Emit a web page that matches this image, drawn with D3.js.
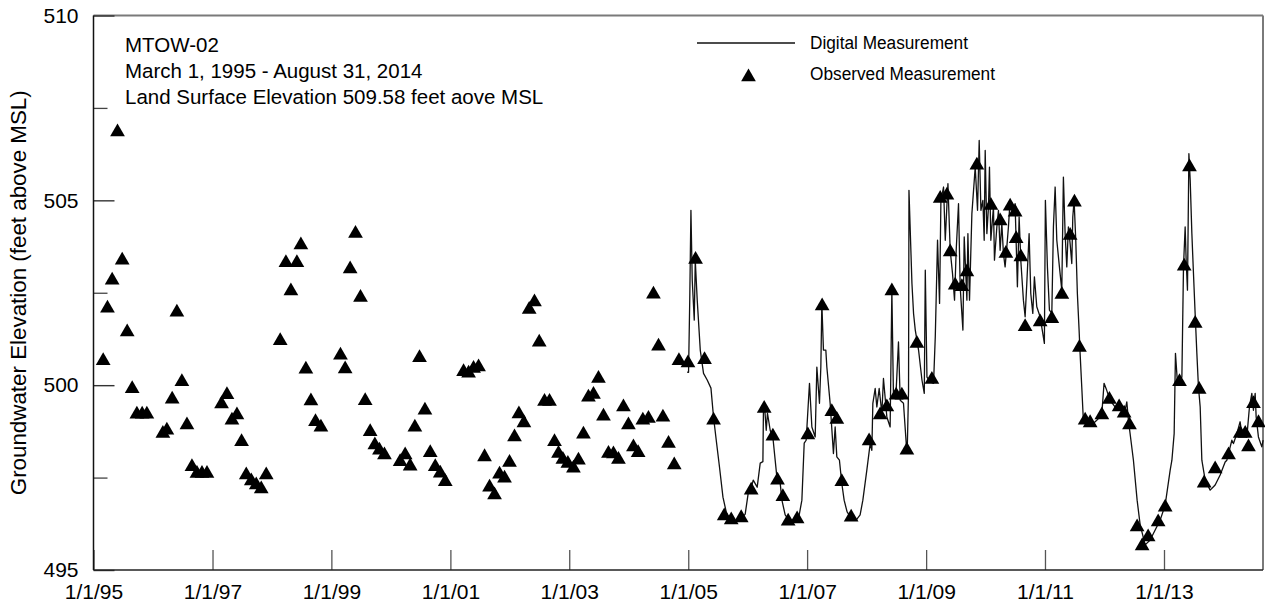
<!DOCTYPE html>
<html>
<head>
<meta charset="utf-8">
<script src="https://cdn.jsdelivr.net/npm/d3@7"></script>
<style>
  html, body { margin: 0; padding: 0; background: #fff; }
  svg { display: block; }
  text { font-family: "Liberation Sans", Arial, Helvetica, sans-serif; fill: #000; }
</style>
</head>
<body>
<svg id="chart" width="1265" height="611"></svg>
<script>
// MTOW-02 groundwater hydrograph, March 1995 - August 2014.
// Times are decimal years, levels are feet above MSL.

const titleLines = [
  "MTOW-02",
  "March 1, 1995 - August 31, 2014",
  "Land Surface Elevation 509.58 feet aove MSL"
];
const legendLabels = ["Digital Measurement", "Observed Measurement"];
const yAxisTitle = "Groundwater Elevation (feet above MSL)";

const xTickYears = [1995, 1997, 1999, 2001, 2003, 2005, 2007, 2009, 2011, 2013];
const yMajorTicks = [495, 500, 505, 510];
const yMinorTicks = [497.5, 502.5, 507.5];
const xDomainYears = [1995.0, 2014.666];

// Manual (observed) water-level measurements
const observed = [
  [1995.163, 500.66], [1995.235, 502.08], [1995.314, 502.84], [1995.404, 506.85],
  [1995.483, 503.38], [1995.567, 501.44], [1995.651, 499.90], [1995.730, 499.21],
  [1995.819, 499.21], [1995.898, 499.21], [1996.167, 498.69], [1996.234, 498.78],
  [1996.323, 499.62], [1996.402, 501.97], [1996.486, 500.09], [1996.571, 498.92],
  [1996.655, 497.79], [1996.739, 497.61], [1996.823, 497.61], [1996.907, 497.61],
  [1997.152, 499.49], [1997.243, 499.74], [1997.327, 499.05], [1997.411, 499.19],
  [1997.489, 498.47], [1997.568, 497.57], [1997.652, 497.41], [1997.736, 497.30],
  [1997.820, 497.19], [1997.904, 497.57], [1998.139, 501.20], [1998.235, 503.31],
  [1998.319, 502.55], [1998.420, 503.31], [1998.487, 503.79], [1998.571, 500.43],
  [1998.656, 499.57], [1998.733, 499.01], [1998.824, 498.86], [1999.153, 500.81],
  [1999.232, 500.44], [1999.316, 503.14], [1999.406, 504.10], [1999.490, 502.37],
  [1999.569, 499.58], [1999.653, 498.74], [1999.732, 498.38], [1999.809, 498.24],
  [1999.893, 498.11], [2000.157, 497.93], [2000.241, 498.11], [2000.325, 497.81],
  [2000.404, 498.86], [2000.482, 500.74], [2000.573, 499.32], [2000.662, 498.17],
  [2000.746, 497.79], [2000.830, 497.62], [2000.914, 497.39], [2001.222, 500.36],
  [2001.306, 500.32], [2001.390, 500.45], [2001.474, 500.49], [2001.575, 498.06],
  [2001.659, 497.24], [2001.743, 497.03], [2001.827, 497.59], [2001.911, 497.48],
  [2001.995, 497.91], [2002.079, 498.60], [2002.153, 499.22], [2002.237, 498.98],
  [2002.326, 502.05], [2002.415, 502.25], [2002.495, 501.16], [2002.584, 499.56],
  [2002.668, 499.56], [2002.752, 498.47], [2002.819, 498.15], [2002.893, 497.99],
  [2002.977, 497.88], [2003.071, 497.75], [2003.155, 497.97], [2003.239, 498.67],
  [2003.323, 499.67], [2003.408, 499.75], [2003.492, 500.18], [2003.576, 499.16],
  [2003.660, 498.15], [2003.744, 498.14], [2003.828, 497.99], [2003.912, 499.41],
  [2003.996, 498.92], [2004.080, 498.33], [2004.159, 498.17], [2004.238, 499.05],
  [2004.332, 499.10], [2004.416, 502.46], [2004.501, 501.05], [2004.575, 499.13],
  [2004.669, 498.42], [2004.765, 497.84], [2004.844, 500.66], [2004.995, 500.60],
  [2005.123, 503.40], [2005.274, 500.69], [2005.426, 499.05], [2005.605, 496.46],
  [2005.723, 496.35], [2005.891, 496.41], [2006.059, 497.16], [2006.278, 499.37],
  [2006.424, 498.62], [2006.502, 497.43], [2006.592, 496.98], [2006.681, 496.32],
  [2006.832, 496.38], [2007.013, 498.65], [2007.253, 502.14], [2007.416, 499.28],
  [2007.500, 499.07], [2007.584, 497.39], [2007.741, 496.43], [2008.043, 498.49],
  [2008.228, 499.19], [2008.341, 499.41], [2008.425, 502.55], [2008.497, 499.73],
  [2008.593, 499.73], [2008.677, 498.24], [2008.845, 501.13], [2009.097, 500.15],
  [2009.237, 505.05], [2009.350, 505.14], [2009.405, 503.60], [2009.489, 502.70],
  [2009.602, 502.66], [2009.686, 503.06], [2009.854, 505.95], [2010.090, 504.86],
  [2010.246, 504.44], [2010.342, 503.56], [2010.414, 504.84], [2010.498, 504.68],
  [2010.515, 503.96], [2010.594, 503.47], [2010.666, 501.58], [2010.919, 501.71],
  [2011.115, 501.80], [2011.284, 502.45], [2011.423, 504.05], [2011.496, 504.95],
  [2011.580, 501.02], [2011.676, 499.05], [2011.760, 498.98], [2011.957, 499.19],
  [2012.084, 499.61], [2012.247, 499.41], [2012.331, 499.24], [2012.421, 498.92],
  [2012.549, 496.16], [2012.633, 495.65], [2012.734, 495.89], [2012.902, 496.30],
  [2013.020, 496.70], [2013.261, 500.09], [2013.340, 503.22], [2013.429, 505.90],
  [2013.525, 501.67], [2013.592, 499.88], [2013.676, 497.35], [2013.861, 497.73],
  [2014.086, 498.11], [2014.283, 498.69], [2014.367, 498.69], [2014.422, 498.33],
  [2014.506, 499.50], [2014.590, 498.98]
];

// Continuous (digital transducer) record
const digital = [
  [2004.983, 500.35], [2005.005, 500.35], [2005.025, 502.30], [2005.045, 504.73],
  [2005.067, 502.84], [2005.101, 501.76], [2005.118, 503.38], [2005.151, 502.30],
  [2005.202, 500.95], [2005.257, 500.32], [2005.319, 500.14], [2005.382, 499.92],
  [2005.425, 499.14], [2005.471, 498.51], [2005.526, 497.78], [2005.584, 496.97],
  [2005.639, 496.57], [2005.706, 496.35], [2005.790, 496.30], [2005.874, 496.35],
  [2005.958, 496.51], [2006.009, 497.08], [2006.059, 497.22], [2006.093, 497.43],
  [2006.160, 497.24], [2006.211, 497.89], [2006.256, 497.93], [2006.266, 499.46],
  [2006.286, 499.38], [2006.312, 498.78], [2006.333, 499.24], [2006.379, 498.78],
  [2006.429, 498.51], [2006.491, 497.52], [2006.547, 497.35], [2006.576, 496.89],
  [2006.631, 496.49], [2006.715, 496.30], [2006.799, 496.32], [2006.867, 496.49],
  [2006.912, 496.89], [2006.951, 498.43], [2006.984, 498.51], [2007.040, 500.05],
  [2007.080, 498.87], [2007.136, 498.60], [2007.164, 500.49], [2007.208, 499.51],
  [2007.231, 500.49], [2007.248, 502.21], [2007.275, 500.95], [2007.315, 500.95],
  [2007.332, 500.49], [2007.388, 499.50], [2007.443, 498.15], [2007.472, 498.87],
  [2007.500, 498.06], [2007.544, 497.97], [2007.584, 497.34], [2007.623, 496.89],
  [2007.673, 496.57], [2007.741, 496.41], [2007.825, 496.35], [2007.892, 496.49],
  [2007.938, 496.89], [2008.005, 497.70], [2008.061, 498.42], [2008.089, 498.24],
  [2008.106, 499.51], [2008.145, 499.91], [2008.173, 499.41], [2008.212, 499.91],
  [2008.257, 499.24], [2008.284, 500.18], [2008.341, 499.14], [2008.396, 498.87],
  [2008.425, 502.57], [2008.452, 499.68], [2008.497, 499.86], [2008.536, 501.17],
  [2008.565, 499.59], [2008.620, 499.51], [2008.666, 498.42], [2008.683, 498.24],
  [2008.705, 499.86], [2008.712, 505.27], [2008.762, 502.75], [2008.789, 501.94],
  [2008.818, 501.49], [2008.873, 500.95], [2008.930, 500.14], [2008.969, 499.78],
  [2008.986, 503.11], [2009.014, 500.22], [2009.070, 500.09], [2009.125, 500.05],
  [2009.154, 501.31], [2009.192, 503.92], [2009.226, 502.21], [2009.249, 505.00],
  [2009.293, 505.36], [2009.322, 503.92], [2009.367, 505.45], [2009.405, 503.65],
  [2009.444, 503.02], [2009.478, 502.30], [2009.506, 503.65], [2009.545, 504.91],
  [2009.573, 502.66], [2009.619, 501.49], [2009.641, 504.01], [2009.686, 502.30],
  [2009.703, 504.10], [2009.730, 502.30], [2009.770, 504.64], [2009.826, 505.90],
  [2009.865, 504.73], [2009.893, 506.62], [2009.922, 504.73], [2009.955, 505.00],
  [2009.977, 503.92], [2009.994, 506.35], [2010.022, 504.10], [2010.049, 504.82],
  [2010.066, 505.90], [2010.089, 503.92], [2010.133, 504.82], [2010.150, 503.38],
  [2010.190, 504.28], [2010.217, 504.73], [2010.245, 503.65], [2010.274, 504.37],
  [2010.301, 503.56], [2010.329, 503.20], [2010.358, 503.74], [2010.385, 504.28],
  [2010.413, 505.00], [2010.458, 504.64], [2010.497, 504.91], [2010.536, 502.66],
  [2010.565, 504.55], [2010.593, 503.38], [2010.637, 502.30], [2010.666, 501.85],
  [2010.694, 502.75], [2010.733, 504.10], [2010.761, 502.48], [2010.795, 501.94],
  [2010.822, 502.93], [2010.862, 502.12], [2010.918, 501.85], [2010.963, 501.40],
  [2010.990, 501.13], [2011.007, 505.00], [2011.041, 503.20], [2011.075, 502.03],
  [2011.115, 501.94], [2011.142, 504.28], [2011.171, 505.36], [2011.199, 503.92],
  [2011.243, 503.20], [2011.283, 502.57], [2011.310, 505.63], [2011.339, 504.10],
  [2011.367, 503.20], [2011.394, 504.28], [2011.423, 503.83], [2011.451, 503.29],
  [2011.468, 504.55], [2011.490, 505.00], [2011.518, 503.92], [2011.545, 502.48],
  [2011.574, 501.49], [2011.591, 500.86], [2011.619, 499.95], [2011.646, 499.05],
  [2011.703, 498.92], [2011.787, 498.92], [2011.871, 499.05], [2011.955, 499.19],
  [2011.994, 500.05], [2012.039, 499.86], [2012.095, 499.59], [2012.179, 499.41],
  [2012.263, 499.32], [2012.347, 499.32], [2012.376, 499.55], [2012.403, 499.05],
  [2012.487, 497.97], [2012.549, 496.89], [2012.600, 496.22], [2012.684, 495.68],
  [2012.768, 495.81], [2012.852, 496.08], [2012.936, 496.35], [2013.020, 496.76],
  [2013.104, 497.70], [2013.133, 497.97], [2013.171, 498.69], [2013.193, 500.86],
  [2013.227, 500.05], [2013.301, 500.22], [2013.328, 503.20], [2013.356, 504.28],
  [2013.373, 503.38], [2013.395, 502.57], [2013.419, 506.26], [2013.441, 505.54],
  [2013.469, 504.10], [2013.496, 503.02], [2013.524, 501.94], [2013.553, 500.86],
  [2013.580, 499.95], [2013.609, 499.41], [2013.637, 497.97], [2013.693, 497.43],
  [2013.777, 497.16], [2013.861, 497.30], [2013.945, 497.57], [2014.029, 497.92],
  [2014.058, 497.97], [2014.142, 498.51], [2014.169, 498.42], [2014.226, 498.69],
  [2014.281, 499.01], [2014.310, 498.69], [2014.394, 498.60], [2014.438, 499.41],
  [2014.478, 499.78], [2014.505, 499.32], [2014.534, 499.78], [2014.551, 499.14],
  [2014.589, 498.60], [2014.646, 498.33], [2014.668, 498.51]
];

// decimal year -> UTC Date
function toDate(dy) {
  const yr = Math.floor(dy);
  const a = Date.UTC(yr, 0, 1), b = Date.UTC(yr + 1, 0, 1);
  return new Date(a + (dy - yr) * (b - a));
}

const svg = d3.select("#chart");
const plot = { left: 93.5, right: 1263, top: 15.5, bottom: 570 };

const x = d3.scaleUtc().domain(xDomainYears.map(toDate)).range([plot.left, plot.right]);
const y = d3.scaleLinear().domain([495, 510]).range([plot.bottom, plot.top]);

// plot frame: grey top/right border first, dark axes drawn after
svg.append("line").attr("x1", plot.left).attr("x2", plot.right).attr("y1", plot.top).attr("y2", plot.top)
  .attr("stroke", "#7a7a7a").attr("stroke-width", 2);
svg.append("line").attr("x1", plot.right).attr("x2", plot.right).attr("y1", plot.top).attr("y2", plot.bottom)
  .attr("stroke", "#7a7a7a").attr("stroke-width", 2);

// y axis: labelled major ticks and short minor ticks, both pointing inward
const yAxis = d3.axisLeft(y).tickValues(yMajorTicks).tickFormat(d3.format("d"))
  .tickSize(-21).tickPadding(15);
const gy = svg.append("g").attr("transform", `translate(${plot.left},0)`).call(yAxis);
gy.select(".domain").remove();
gy.selectAll(".tick line").attr("stroke", "#333").attr("stroke-width", 1.4);
gy.selectAll(".tick text").style("font-size", "21px").attr("fill", "#000");

const gyMinor = svg.append("g").attr("transform", `translate(${plot.left},0)`)
  .call(d3.axisLeft(y).tickValues(yMinorTicks).tickFormat("").tickSize(-14));
gyMinor.select(".domain").remove();
gyMinor.selectAll(".tick line").attr("stroke", "#444").attr("stroke-width", 1.3);

// x axis: inward ticks every two years
const xAxis = d3.axisBottom(x)
  .tickValues(xTickYears.map(toDate))
  .tickFormat(d3.utcFormat("%-m/%-d/%y"))
  .tickSize(-20).tickPadding(14);
const gx = svg.append("g").attr("transform", `translate(0,${plot.bottom})`).call(xAxis);
gx.select(".domain").remove();
gx.selectAll(".tick line").attr("stroke", "#555").attr("stroke-width", 1.3);
gx.selectAll(".tick text").style("font-size", "21px").attr("fill", "#000");

svg.append("line").attr("x1", plot.left).attr("x2", plot.left).attr("y1", plot.top).attr("y2", plot.bottom)
  .attr("stroke", "#111").attr("stroke-width", 1.5);
svg.append("line").attr("x1", plot.left).attr("x2", plot.right).attr("y1", plot.bottom).attr("y2", plot.bottom)
  .attr("stroke", "#222").attr("stroke-width", 1.5);

// continuous record
const line = d3.line().x(d => x(toDate(d[0]))).y(d => y(d[1]));
svg.append("path").datum(digital)
  .attr("fill", "none").attr("stroke", "#111").attr("stroke-width", 1.3)
  .attr("stroke-linejoin", "round").attr("d", line);

// observed measurements
const tri = d3.symbol(d3.symbolTriangle).size(94);
svg.append("g").selectAll("path").data(observed).join("path")
  .attr("d", tri)
  .attr("transform", d => `translate(${x(toDate(d[0]))},${y(d[1])})`)
  .attr("fill", "#000");

// well annotation
svg.append("g").selectAll("text").data(titleLines).join("text")
  .attr("x", 125).attr("y", (d, i) => 52 + i * 26)
  .style("font-size", "20.5px")
  .text(d => d);

// legend
svg.append("line").attr("x1", 697).attr("x2", 795).attr("y1", 43).attr("y2", 43)
  .attr("stroke", "#111").attr("stroke-width", 1.3);
svg.append("path").attr("d", tri).attr("transform", "translate(748.5,77)").attr("fill", "#000");
svg.append("g").selectAll("text").data(legendLabels).join("text")
  .attr("x", 810).attr("y", (d, i) => 49 + i * 31)
  .attr("textLength", (d, i) => i === 0 ? 158 : 185)
  .attr("lengthAdjust", "spacingAndGlyphs")
  .style("font-size", "18px")
  .text(d => d);

// y axis title
svg.append("text")
  .attr("transform", `translate(26,${(plot.top + plot.bottom) / 2}) rotate(-90)`)
  .attr("text-anchor", "middle")
  .attr("textLength", 405)
  .attr("lengthAdjust", "spacingAndGlyphs")
  .style("font-size", "22px")
  .text(yAxisTitle);
</script>
</body>
</html>
